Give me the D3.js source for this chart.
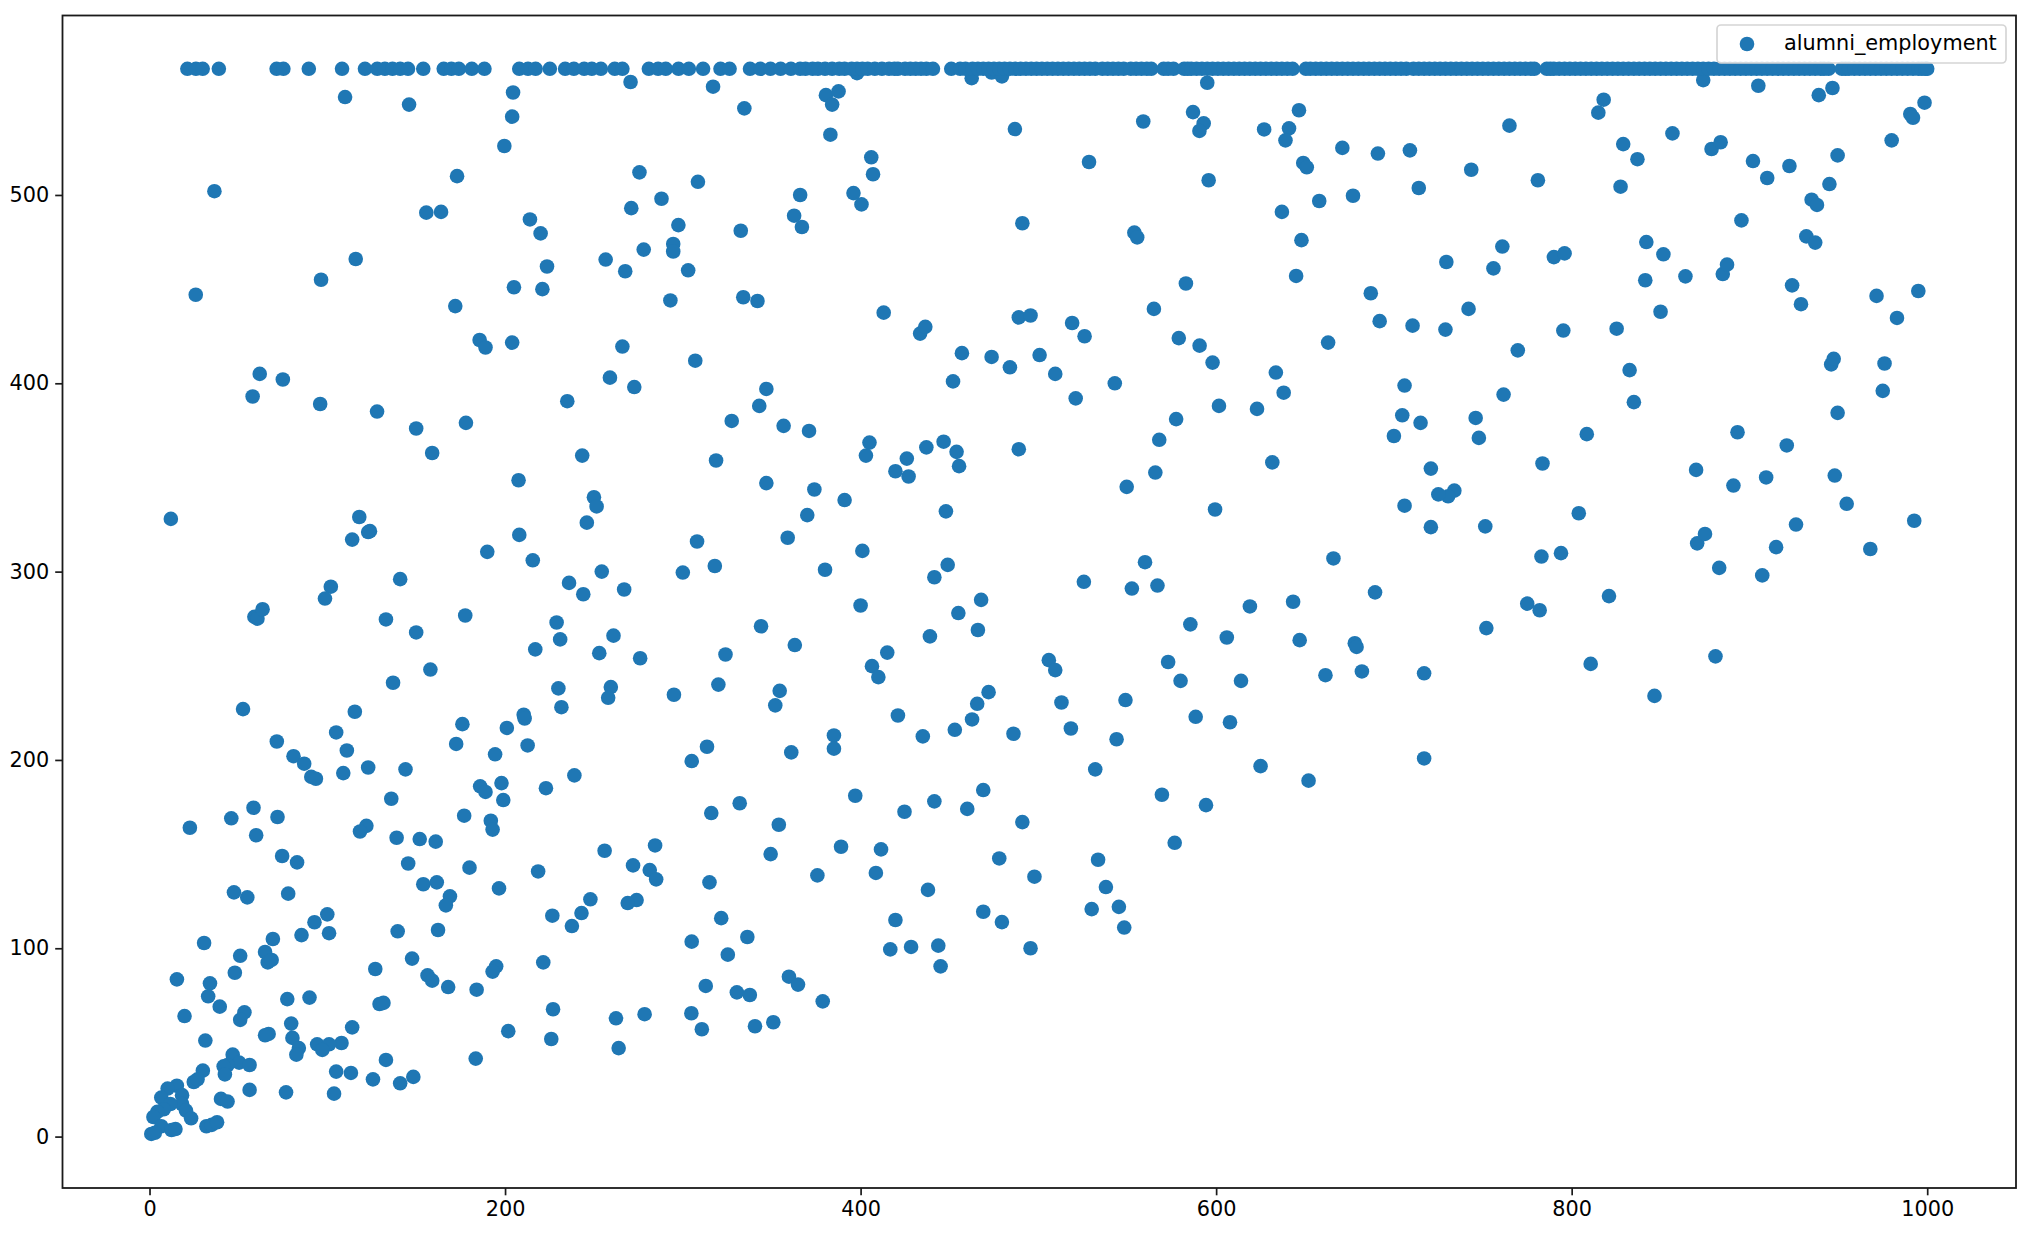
<!DOCTYPE html>
<html><head><meta charset="utf-8">
<script src="https://cdn.jsdelivr.net/npm/d3@7/dist/d3.min.js"></script>
<style>html,body{margin:0;padding:0;background:#fff}svg{display:block}text{font-family:"DejaVu Sans",sans-serif}</style>
</head><body><svg id="c" width="2036" height="1234"></svg>
<script>
const seriesName = "alumni_employment";
const xTicks = [0,200,400,600,800,1000];
const yTicks = [0,100,200,300,400,500];
const capValue = 567;
const capX = [21.3,26.1,29.9,39,71.5,75.3,89.6,108.3,121.2,128.1,132.4,136.7,141,145.4,154,165.5,169.8,174,181.3,188.4,208,212.9,217.2,225.2,233.8,238.7,244.5,248.8,253.9,261.7,266,280.9,286.1,290.4,297.6,303.4,311.4,321.2,326.3,337.8,343.6,349.3,355,360.8,
366,369,373,376,380,384,388,391,395,398,401,404,408,412,416,419,421,425,428,431,434,437,440.7,451,456,459,463,466,469,472,475,478,481,484,487,490,493,496,499,502,505,508,511,514,517,520,523,526,529,532,536,539,542,545,548,552,555,558,561,563.5,570.5,573,576,582,584,586,589,592,595,598,601,604,607,610,613,616,619,622,625,628,631,634,637,640,643,650.5,653,656,659,662,665,668,671,674,677,680,683,686,689,692,695,698,701,704,707,711,714,717,720,723,726,729,732,735,738,741,744,747,750,753,756,759,762,765,768,771,774,777,779,786,788,790,793,796,799,802,805,808,811,814,817,820,823,826,829,832,835,838,841,844,847,850,853,856,859,862,865,868,871,874,877,880,883,886,889,892,895,898,901,904,907,910,913,916,919,922,925,928,931,934,937,940,942,944.5,952,954,956,959,962,965,968,971,974,977,980,983,986,989,992,995,997,999,1000];
const points = [[110,552],[146,548],[270.6,560],[317,557.5],[334.6,546],[398,564.7],[380.5,553],[384,548],[387.6,555],[383,532],[406,520],[407,511],[396,501],[400.5,495],[366,500],[367,483],[362.6,489],[308.5,507],[288,498],[275.6,512],[271,493],[297.5,484],[294.6,474],[294.6,470],[278,471],[303,460],[267.6,459.5],[256.6,465.7],[293,444],[307,412],[266,419.5],[259,403],[272.7,398],[334,445.7],[342,443.7],[332.6,481],[204,541.6],[204.5,554.4],[199.6,526],[173,510],[36.5,502],[26,447],[164,491],[155.7,490.6],[214,487],[220,479.6],[223.6,462],[205,451],[221,450],[116,466],[96.5,455],[172,441],[185.7,423],[189,419],[204,421.6],[62,405],[75,402],[58,393],[96,389],[128,385],[150,376],[178,379],[159,363],[235,390.5],[243.4,361.6],[207.6,348.5],[12,328],[118,329],[114,317],[124,321.5],[123,321],[190,310.5],[208,319.5],[215.6,306],[141,296],[236,294],[244,288],[102,292],[98.7,285.7],[246,326],[250,339.5],[251.5,334.6],[254.4,300],[267,290.5],[59,276],[60.7,275],[63.6,280],[133,274.6],[150,267.7],[177.6,276.7],[158,248],[137,241],[217,258.7],[229,273],[231,264],[261,266],[253,256.7],[276,254],[230,238],[231.7,228],[259.5,238.7],[258,233],[295,234.6],[52.6,227],[115.5,225.6],[105,214.6],[210.5,224],[211,222],[71.6,209.8],[111,205],[81,202],[87,198],[91,191],[93.6,190],[109,193],[144,195],[123,196],[176,219],[172.5,208.5],[201,217],[212.7,207.7],[194.4,203],[198,187.7],[186,186],[189,183],[199,178.7],[223,185],[239,191.8],[136,179.4],[58.5,174.6],[177,170.4],[72,169.7],[46,169],[192,167.7],[22.7,164],[122,165],[118.4,162],[60,160],[193,163],[139,158.7],[152,158],[161,156.6],[256,151.8],[284.4,154.6],[74.6,149],[83,145.6],[145.5,145],[272,144],[281.4,141.5],[218.6,140.8],[180,142.8],[285,136.6],[154,134],[161.6,135],[196.6,131.8],[169,127.6],[166.7,122.8],[47.5,129.7],[55,127],[78,129],[248,126],[274,125.6],[269,124],[243,118.7],[226.6,117.3],[237.6,111.8],[100,118],[92.8,113.8],[85.5,107],[101,108],[162.3,109.7],[139.6,109],[69.4,104.9],[30.7,102.8],[65,98],[51,96],[147.7,94.5],[66.5,92.5],[68.7,93.8],[127,89],[48,87],[221.5,92.5],[195,90.4],[193,87.6],[15.4,83.5],[34,81.4],[156.4,85.6],[159,82.8],[168,79.4],[184,78],[33,74.5],[90,73.8],[77.5,73],[39.5,69],[227,67.6],[129.4,70.4],[131.6,71],[53.4,66],[51,62],[19.7,64],[79.7,60],[114,58],[201.8,56],[67,54.5],[65,53.8],[31.4,51],[80.4,52.4],[226,51.8],[108,49.7],[94.3,49],[101,49],[97.2,46],[84,47],[82.6,43.5],[46.8,43.5],[50.4,39.3],[56.3,38],[43.9,38],[41.7,37.3],[30,35],[42.4,33],[133,40.7],[183.5,41.4],[105,34.5],[113.3,33.8],[125.7,30.4],[148.4,31.7],[141,28.3],[24.9,29],[27,30.4],[56.3,24.8],[76.8,23.5],[103.8,22.8],[40.2,20],[43.9,18.6],[15.4,27],[10.2,25.5],[6.6,20.7],[18.3,22],[18.3,17.3],[11.7,17.3],[20.5,13.8],[8,14.5],[4.4,13.1],[2.2,10.4],[23.4,9.7],[6.6,5.5],[12.4,3.5],[14.6,4],[1,1.4],[3,2],[32,5.5],[35,6.2],[38,7.6],
[305,103.5],[321.6,116],[315,135],[316,171.8],[332,177],[305,199.4],[313.6,207],[320,240],[324,256],[318,303],[308,316],[300,299.5],[318.7,359],[327.5,380],[343,388],[347,397],[347,347],[356.7,377.4],[371,374.7],[374,343.6],[370,330],[359,318],[380,301],[391,338],[405,368.5],[403,361.6],[401,311],[400,282],[419.6,353.3],[426,360],[427,350.5],[437,366],[446.7,369],[454,363.6],[455.4,356],[448,332],[441.5,297],[449,303.6],[344,271],[363,261],[354.5,236.7],[352,229],[361,204],[385,213],[385,206],[397,181],[354,165.6],[349.4,150],[389,153.9],[375.7,138.7],[406.4,249.8],[410,244],[415,257],[421,223.6],[435,212.5],[439,265.6],[455,278],[467.8,285],[466,269],[472,236],[465.6,229.8],[462.7,221.5],[453,216],[469,184],[441.5,178],[460,174],[424.7,172.5],[411.5,152.5],[408.6,140],[437.9,131],[419.6,115],[416.7,99.4],[428.4,100.7],[443.7,101.4],[445,90.4],[469,119.4],[479.5,113.9],[478,147.7],
[262.4,62.8],[263.9,47],[278.5,65],[304.8,65.5],[310.7,57],[312.9,80],[325.3,96.6],[330.4,76.6],[337.7,75.2],[336.3,106],[340.6,58.6],[350.9,60.7],[359.7,84.9],[364.8,80.7],[378.7,71.8],
[491,167],[486,213.9],[495.6,100],[497.8,138],[505.9,253],[509.5,247.7],[513,230.5],[518.3,216.7],[525.6,294.6],[532,195],[544,211],[549,231.8],[533.6,147],[538,132.5],[530,120.8],[545.3,122],[548.3,111],[552.6,291],[560,305],[567,292.6],[573,252],[580,242],[585.5,272],[588.5,222.9],[569.5,181.5],[576.7,156],[594.3,176],[599.4,333],[606,265],[607.8,220],[614,242],[619,281.5],[625,196.7],[643.3,284],[647,263.6],[652,189],[661.5,245],[666,307],[678,262],[679,260],[682,247],[689.4,289],[717,246],[717,200.8],[752,270],[751.4,324],[747.8,371],[746,381.6],[734,343],[730.5,340],[725,341],[720.8,323.6],[706,335],[720.8,354.7],[715,379],[704.7,383],[700,372],[706,398.8],
[413,437.5],[433.5,426.4],[436.4,430],[457,416],[452,401],[473.7,414],[484,408.5],[489,435],[495.6,436],[500.7,415],[509.5,405],[519,432],[526,425],[521,392],[543,400],[489,365],[568,370],[565.8,352.6],[577.5,381],[549.7,345],[579,424],[565,439.5],[583,453],[590.7,420],[598,411],[601.6,388],[623,386.4],[633.6,405.7],[638,395],[631.6,358],[663,421.6],[645,457],[648,476],
[462.5,562],[473.7,565],[479.5,563],[486.8,535],[491,485],[528.5,517.5],[554,480],[555.6,477.5],[559,539],[587,544],[593,538],[590.6,534],[595,559.6],[595.8,507.8],[627,534.8],[646.6,545],[641,535.4],[639,529],[637,491],[649,517],[651,514.7],[658,496.8],[671,525],[677,499.6],[691,522],[687,447.8],[692,433],[710.5,430.6],[709,523.7],[714,503.7],[729.5,464.4],[729,428.5],[742,439.5],[743.5,513.4],[756,461],[761,472.6],[765,536.8],[769.7,417.5],[761.7,394],[781,507.8],[790,467],[796,469],[795.3,428],[808.5,373],[804,331],[783.6,357.4],[783,308],[794,309.8],[775,283],[782,279.5],[810.7,251],[821,287],[846.6,234],[880.9,255],[815,543.7],[818,550.6],[829,527],[827.5,504.4],[837,519],[825.3,429],[832.6,407],[835,390],[842,475],[841.4,454.7],[851.6,468.5],[850,438],[864,456.8],[856.7,532.7],[874,561],[878.7,524.4],[883.8,528],[885,458],[887.4,463],[895.5,486.5],[905,558],[902,518],[910,509],[922.5,515.4],[924,452],[929,442],[932,478],[935,497.5],[937,474.7],[938,494.7],[939,553],[945,505.8],[946.7,556.8],[949.6,521],[946,410],[947.4,413],[949.6,384.3],[948,351],[954.7,336],[921,367],[893.3,374],[891,345.7],[909.4,350],[926.2,325],[915,313],[907.2,298],[883,302],[870.6,315],[875,320],[870,354],[968,312],[992.7,327],[971.5,446.4],[983,434.7],[995,449],[975,396],[976,410.5],[980,529],[990.5,543],[992,541],[998.5,549]];

const L=62.5,R=2016,T=15.5,B=1188;
const svg=d3.select("#c");
const x=d3.scaleLinear().domain([-48.95,1049.95]).range([L,R]);
const y=d3.scaleLinear().domain([-27.3,595.3]).range([B,T]);
const color="#1f77b4", r=7.3, ink="#1a1a1a", fs="20.8px";

const allPts = points.concat(capX.map(v=>[v,capValue]));
svg.append("g").selectAll("circle").data(allPts).join("circle")
  .attr("cx",d=>x(d[0])).attr("cy",d=>y(d[1])).attr("r",r).attr("fill",color);

const gx=svg.append("g").attr("transform",`translate(0,${B})`).call(d3.axisBottom(x).tickValues(xTicks).tickFormat(d3.format("d")).tickSize(7.3).tickPadding(6));
const gy=svg.append("g").attr("transform",`translate(${L},0)`).call(d3.axisLeft(y).tickValues(yTicks).tickFormat(d3.format("d")).tickSize(7.3).tickPadding(6));
[gx,gy].forEach(g=>{
  g.select(".domain").remove();
  g.selectAll("line").attr("stroke",ink).attr("stroke-width",1.7);
  g.selectAll("text").attr("fill","#000").style("font-size",fs).style("font-family",'"DejaVu Sans"');
});
svg.append("rect").attr("x",L).attr("y",T).attr("width",R-L).attr("height",B-T).attr("fill","none").attr("stroke",ink).attr("stroke-width",1.8);

const lg=svg.append("g");
lg.append("rect").attr("x",1717).attr("y",25).attr("width",289).attr("height",38).attr("rx",4)
  .attr("fill","#fff").attr("fill-opacity",0.8).attr("stroke","#d5d5d5").attr("stroke-width",1.7);
lg.append("circle").attr("cx",1747).attr("cy",44).attr("r",r).attr("fill",color);
lg.append("text").attr("x",1784).attr("y",50).text(seriesName).style("font-size",fs).attr("fill","#000");
</script></body></html>
